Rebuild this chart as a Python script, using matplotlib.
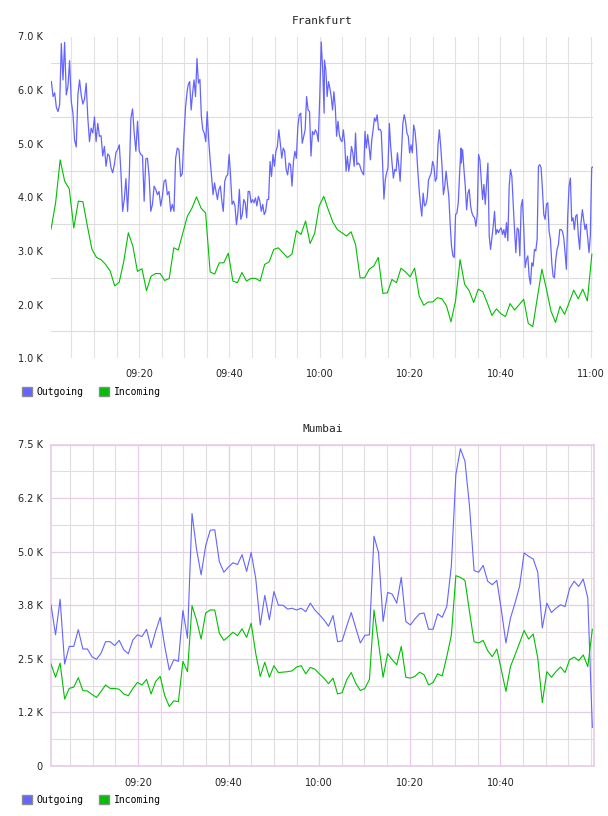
import matplotlib
matplotlib.use("Agg")
import matplotlib.pyplot as plt
import matplotlib.dates as mdates
from matplotlib.patches import Patch
import pandas as pd

# values in K (thousands)
# Frankfurt outgoing is sampled finely, kept as four half-hour stretches
frankfurt_out_1 = [
    6.16, 5.88, 5.95, 5.68, 5.60, 5.73, 6.87, 6.19, 6.89, 5.91, 6.07, 6.55, 5.79, 5.57, 5.07, 4.94,
    5.91, 6.19, 5.91, 5.74, 5.83, 6.13, 5.48, 5.04, 5.29, 5.20, 5.50, 5.04, 5.38, 5.14, 5.15, 4.77,
    4.95, 4.58, 4.81, 4.77, 4.55, 4.46, 4.61, 4.84, 4.89, 4.98, 4.46, 3.74, 3.96, 4.35, 3.74, 4.39,
    5.48, 5.65, 5.20, 4.86, 5.42, 4.87, 4.80, 4.78, 3.93, 4.72, 4.73, 4.39, 3.74, 3.87, 4.21, 4.15,
    4.05, 4.11, 3.84, 4.02, 4.30, 4.33, 4.05, 4.11, 3.74, 3.87, 3.74, 4.73, 4.92, 4.89, 4.39, 4.44,
    5.14, 5.69, 5.99,
]
frankfurt_out_2 = [
    6.10, 6.16, 5.63, 5.94, 6.19, 5.88, 6.59, 6.13, 6.20, 5.51, 5.26, 5.20, 5.04, 5.60, 5.07, 4.70,
    4.39, 4.05, 4.27, 4.11, 3.96, 4.15, 4.21, 3.93, 3.74, 4.30, 4.39, 4.42, 4.80, 4.39, 3.87, 3.93,
    3.84, 3.49, 3.71, 4.15, 3.59, 3.68, 3.96, 3.90, 3.62, 4.11, 4.11, 3.90, 3.96, 3.90, 3.99, 3.84,
    4.02, 3.93, 3.74, 3.87, 3.68, 3.74, 3.96, 3.96, 4.67, 4.39, 4.80, 4.58, 4.86, 4.95, 5.26, 5.01,
    4.73, 4.92, 4.86, 4.52, 4.42, 4.64, 4.61, 4.21, 4.67, 4.86, 4.73, 5.32, 5.54, 5.57, 5.01, 5.14,
    5.26, 5.88, 5.63, 5.60, 4.77, 5.23, 5.17, 5.26, 5.20, 5.04, 5.88, 6.90, 6.38, 5.57,
]
frankfurt_out_3 = [
    6.56, 6.38, 5.88, 6.16, 6.04, 5.88, 5.63, 5.97, 5.69, 5.14, 5.42, 5.17, 5.07, 5.04, 5.26, 5.01,
    4.49, 4.77, 4.49, 4.67, 4.95, 4.83, 4.58, 5.20, 4.61, 4.64, 4.61, 4.52, 4.46, 4.42, 5.23, 4.92,
    5.17, 4.95, 4.70, 5.07, 5.26, 5.48, 5.42, 5.54, 5.26, 5.27, 5.23, 4.64, 3.97, 4.33, 4.46, 4.55,
    5.38, 4.95, 4.64, 4.36, 4.52, 4.49, 4.83, 4.58, 4.30, 4.83, 5.38, 5.54, 5.42, 5.20, 5.14, 4.83,
    4.98, 4.83, 5.35, 5.23, 4.95, 4.52, 4.15, 3.87, 3.65, 4.08, 3.84, 3.87, 3.99, 4.33, 4.39, 4.46,
    4.67, 4.58, 4.30, 4.36, 4.98, 5.26, 4.95, 4.58, 4.05, 4.21, 4.49, 4.24, 4.02, 3.50, 3.09, 2.91,
    2.88, 3.68, 3.71, 3.90, 4.46, 4.92,
]
frankfurt_out_4 = [
    4.64, 4.89, 4.52, 4.21, 3.77, 4.08, 4.15, 3.84, 3.71, 3.65, 3.62, 3.46, 3.68, 4.80, 4.70, 4.33,
    3.96, 4.24, 3.87, 4.24, 4.64, 3.28, 3.03, 3.25, 3.46, 3.74, 3.31, 3.40, 3.34, 3.40, 3.43, 3.31,
    3.40, 3.25, 3.53, 3.19, 4.21, 4.52, 4.39, 3.90, 3.40, 2.97, 3.43, 3.40, 2.91, 3.84, 3.96, 3.40,
    2.69, 2.84, 2.91, 2.53, 2.38, 2.78, 2.72, 3.03, 3.00, 3.22, 4.58, 4.61, 4.55, 4.15, 3.68, 3.59,
    3.87, 3.90, 3.37, 3.22, 2.78, 2.53, 2.50, 2.84, 3.03, 3.12, 3.40, 3.40, 3.37, 3.25, 2.97, 2.66,
    3.65, 4.21, 4.36, 3.56, 3.62, 3.40, 3.65, 3.68, 3.28, 3.03, 3.53, 3.77, 3.59, 3.40, 3.50, 3.25,
    2.97, 3.28, 4.55, 4.57,
]
# first / last sample time of each stretch above
frankfurt_out_spans = [
    ("09:00:34", "09:30:39"),
    ("09:30:52", "10:00:58"),
    ("10:01:02", "10:31:16"),
    ("10:31:20", "11:00:30"),
]
frankfurt_in = [
    3.41, 3.90, 4.70, 4.30, 4.16, 3.43, 3.93, 3.92, 3.46, 3.03, 2.88, 2.84, 2.75, 2.63, 2.35, 2.42,
    2.81, 3.34, 3.09, 2.62, 2.67, 2.26, 2.53, 2.58, 2.58, 2.45, 2.49, 3.06, 3.02, 3.34, 3.65,
    3.80, 4.01, 3.80, 3.71, 2.61, 2.57, 2.78, 2.78, 2.96, 2.44, 2.41, 2.60, 2.44, 2.49, 2.49, 2.44,
    2.75, 2.80, 3.03, 3.06, 2.97, 2.88, 2.94, 3.38, 3.31, 3.56, 3.14, 3.33, 3.84, 4.02,
    3.77, 3.54, 3.40, 3.34, 3.28, 3.36, 3.12, 2.50, 2.50, 2.66, 2.72, 2.88, 2.21, 2.22, 2.47, 2.41,
    2.68, 2.61, 2.52, 2.68, 2.16, 1.99, 2.05, 2.05, 2.13, 2.11, 1.98, 1.68, 2.07, 2.84,
    2.38, 2.26, 2.04, 2.29, 2.24, 2.03, 1.80, 1.92, 1.83, 1.78, 2.02, 1.90, 2.00, 2.10, 1.65, 1.59,
    2.13, 2.66, 2.29, 1.88, 1.67, 1.97, 1.82, 2.04, 2.27, 2.11, 2.29, 2.07, 2.94,
]
mumbai_out = [
    3.76, 3.06, 3.89, 2.38, 2.79, 2.79, 3.18, 2.73, 2.73, 2.55, 2.49, 2.63, 2.90, 2.90, 2.81, 2.93,
    2.71, 2.62, 2.94, 3.06, 3.02, 3.19, 2.76, 3.14, 3.47, 2.79, 2.24, 2.48, 2.44, 3.63, 2.98, 5.89,
    5.05, 4.46, 5.14, 5.50, 5.51, 4.77, 4.52, 4.64, 4.74, 4.70, 4.93, 4.54, 4.98, 4.38, 3.29, 3.98,
    3.41, 4.07, 3.75, 3.75, 3.66, 3.68, 3.64, 3.68, 3.60, 3.80,
    3.64, 3.53, 3.41, 3.26, 3.51, 2.90, 2.92, 3.26, 3.58, 3.22, 2.87, 3.05, 3.06, 5.36, 4.98, 3.37,
    4.05, 4.01, 3.80, 4.40, 3.37, 3.29, 3.43, 3.55, 3.57, 3.19, 3.19, 3.55, 3.47, 3.72, 4.66, 6.80,
    7.40, 7.11, 6.06, 4.56, 4.52, 4.68, 4.31, 4.23, 4.33, 3.64, 2.87, 3.45, 3.80, 4.19, 4.97, 4.89,
    4.83, 4.52, 3.22, 3.80, 3.58, 3.68, 3.76, 3.72, 4.14, 4.31, 4.19, 4.36, 3.92, 0.90,
]
mumbai_in = [
    2.38, 2.07, 2.40, 1.56, 1.81, 1.84, 2.06, 1.76, 1.75, 1.67, 1.60, 1.74, 1.89, 1.81, 1.81, 1.79,
    1.68, 1.64, 1.81, 1.95, 1.89, 2.02, 1.68, 1.97, 2.09, 1.64, 1.39, 1.52, 1.50, 2.44, 2.20, 3.74,
    3.40, 2.96, 3.57, 3.64, 3.64, 3.10, 2.93, 3.02, 3.12, 3.04, 3.20, 3.00, 3.33, 2.63, 2.09, 2.42,
    2.07, 2.34, 2.18, 2.19, 2.20, 2.22, 2.31, 2.34, 2.15, 2.30,
    2.26, 2.15, 2.05, 1.92, 2.05, 1.68, 1.71, 2.01, 2.18, 1.93, 1.76, 1.81, 2.02, 3.64, 2.87, 2.07,
    2.62, 2.48, 2.36, 2.79, 2.07, 2.05, 2.09, 2.19, 2.13, 1.89, 1.95, 2.15, 2.10, 2.55, 3.05, 4.44,
    4.40, 4.33, 3.60, 2.90, 2.87, 2.93, 2.69, 2.55, 2.73, 2.24, 1.74, 2.32, 2.59, 2.87, 3.16, 2.96,
    3.08, 2.52, 1.48, 2.20, 2.07, 2.20, 2.31, 2.18, 2.48, 2.54, 2.46, 2.59, 2.32, 3.19,
]

series_names = ["Outgoing", "Incoming"]
series_colors = ["#6464ff", "#00c000"]
frankfurt_yticks = [1.0, 2.0, 3.0, 4.0, 5.0, 6.0, 7.0]
frankfurt_xticks = ["09:20", "09:40", "10:00", "10:20", "10:40", "11:00"]
mumbai_yticks = [0, 1.25, 2.5, 3.75, 5.0, 6.25, 7.5]
mumbai_xticks = ["09:20", "09:40", "10:00", "10:20", "10:40"]

day = "2024-01-01 "
W, H = 608, 816


def to_time(hhmm):
    return pd.Timestamp(day + hhmm).to_pydatetime()


def times(start, end, n):
    return pd.date_range(day + start, day + end, periods=n).to_pydatetime()


def k_label(v, pos=None):
    if v == 0:
        return "0"
    return f"{v:.1f} K"


def draw_legend(y_px):
    handles = [Patch(facecolor=c, edgecolor="#8c8c8c", linewidth=1.0, label=n)
               for n, c in zip(series_names, series_colors)]
    fig.legend(handles=handles, loc="upper left", ncol=2,
               bbox_to_anchor=(22 / W, 1 - y_px / H), frameon=False,
               prop={"family": "DejaVu Sans Mono", "size": 7},
               handlelength=1.05, handleheight=1.1, handletextpad=0.45,
               columnspacing=1.6, borderpad=0, borderaxespad=0)


fig = plt.figure(figsize=(W / 100, H / 100), dpi=100)

# ---------------- Frankfurt ----------------
ax1 = fig.add_axes([51 / W, 1 - 358.3 / H, 542 / W, 321.8 / H])
out_parts = [frankfurt_out_1, frankfurt_out_2, frankfurt_out_3, frankfurt_out_4]
t_out, v_out = [], []
for part, (a, b) in zip(out_parts, frankfurt_out_spans):
    t_out.extend(times(a, b, len(part)))
    v_out.extend(part)
t_in = times("09:00:30", "11:00:15", len(frankfurt_in))
ax1.plot(t_out, v_out, color=series_colors[0], lw=0.9, zorder=3)
ax1.plot(t_in, frankfurt_in, color=series_colors[1], lw=0.8, zorder=3)
ax1.set_xlim(to_time("09:00:29"), to_time("11:00:30"))
ax1.set_ylim(1.0, 7.0)
ax1.set_yticks(frankfurt_yticks)
ax1.yaxis.set_major_formatter(k_label)
ax1.set_yticks([v + 0.5 for v in frankfurt_yticks[:-1]], minor=True)
ax1.set_xticks([to_time(s) for s in frankfurt_xticks])
ax1.set_xticklabels(frankfurt_xticks)
ax1.xaxis.set_minor_locator(mdates.MinuteLocator(byminute=range(0, 60, 5)))
ax1.grid(axis="x", which="both", color="#e2e2e2", lw=0.8, zorder=0)
ax1.grid(axis="y", which="minor", color="#dcdcdc", lw=0.8, zorder=0)
for s in ax1.spines.values():
    s.set_visible(False)
ax1.tick_params(which="both", length=0)
ax1.tick_params(axis="y", pad=6, labelsize=7, labelcolor="#222222")
ax1.tick_params(axis="x", pad=8, labelsize=7, labelcolor="#222222")
ax1.set_title("Frankfurt", family="DejaVu Sans Mono", fontsize=8, color="#222222", pad=9)
draw_legend(387)

# ---------------- Mumbai ----------------
ax2 = fig.add_axes([51 / W, 1 - 766 / H, 542.7 / W, 321.5 / H])
m_out = times("09:00:48", "11:00:18", len(mumbai_out))
m_in = times("09:00:48", "11:00:18", len(mumbai_in))
ax2.plot(m_out, mumbai_out, color=series_colors[0], lw=0.8, zorder=3)
ax2.plot(m_in, mumbai_in, color=series_colors[1], lw=0.8, zorder=3)
ax2.set_xlim(to_time("09:00:48"), to_time("11:00:36"))
ax2.set_ylim(0, 7.5)
ax2.set_yticks(mumbai_yticks)
ax2.yaxis.set_major_formatter(k_label)
ax2.set_yticks([v + 0.625 for v in mumbai_yticks[:-1]], minor=True)
ax2.set_xticks([to_time(s) for s in mumbai_xticks])
ax2.set_xticklabels(mumbai_xticks)
ax2.xaxis.set_minor_locator(mdates.MinuteLocator(byminute=range(0, 60, 5)))
ax2.grid(which="minor", color="#e0dce0", lw=0.8, zorder=0)
ax2.grid(which="major", color="#e6cce6", lw=0.9, zorder=1)
for s in ax2.spines.values():
    s.set_color("#e6cce6")
    s.set_linewidth(1.2)
ax2.tick_params(which="both", length=0)
ax2.tick_params(axis="y", pad=6, labelsize=7, labelcolor="#222222")
ax2.tick_params(axis="x", pad=9, labelsize=7, labelcolor="#222222")
ax2.set_title("Mumbai", family="DejaVu Sans Mono", fontsize=8, color="#222222", pad=9)
draw_legend(795)

fig.savefig("out.png", dpi=100)
